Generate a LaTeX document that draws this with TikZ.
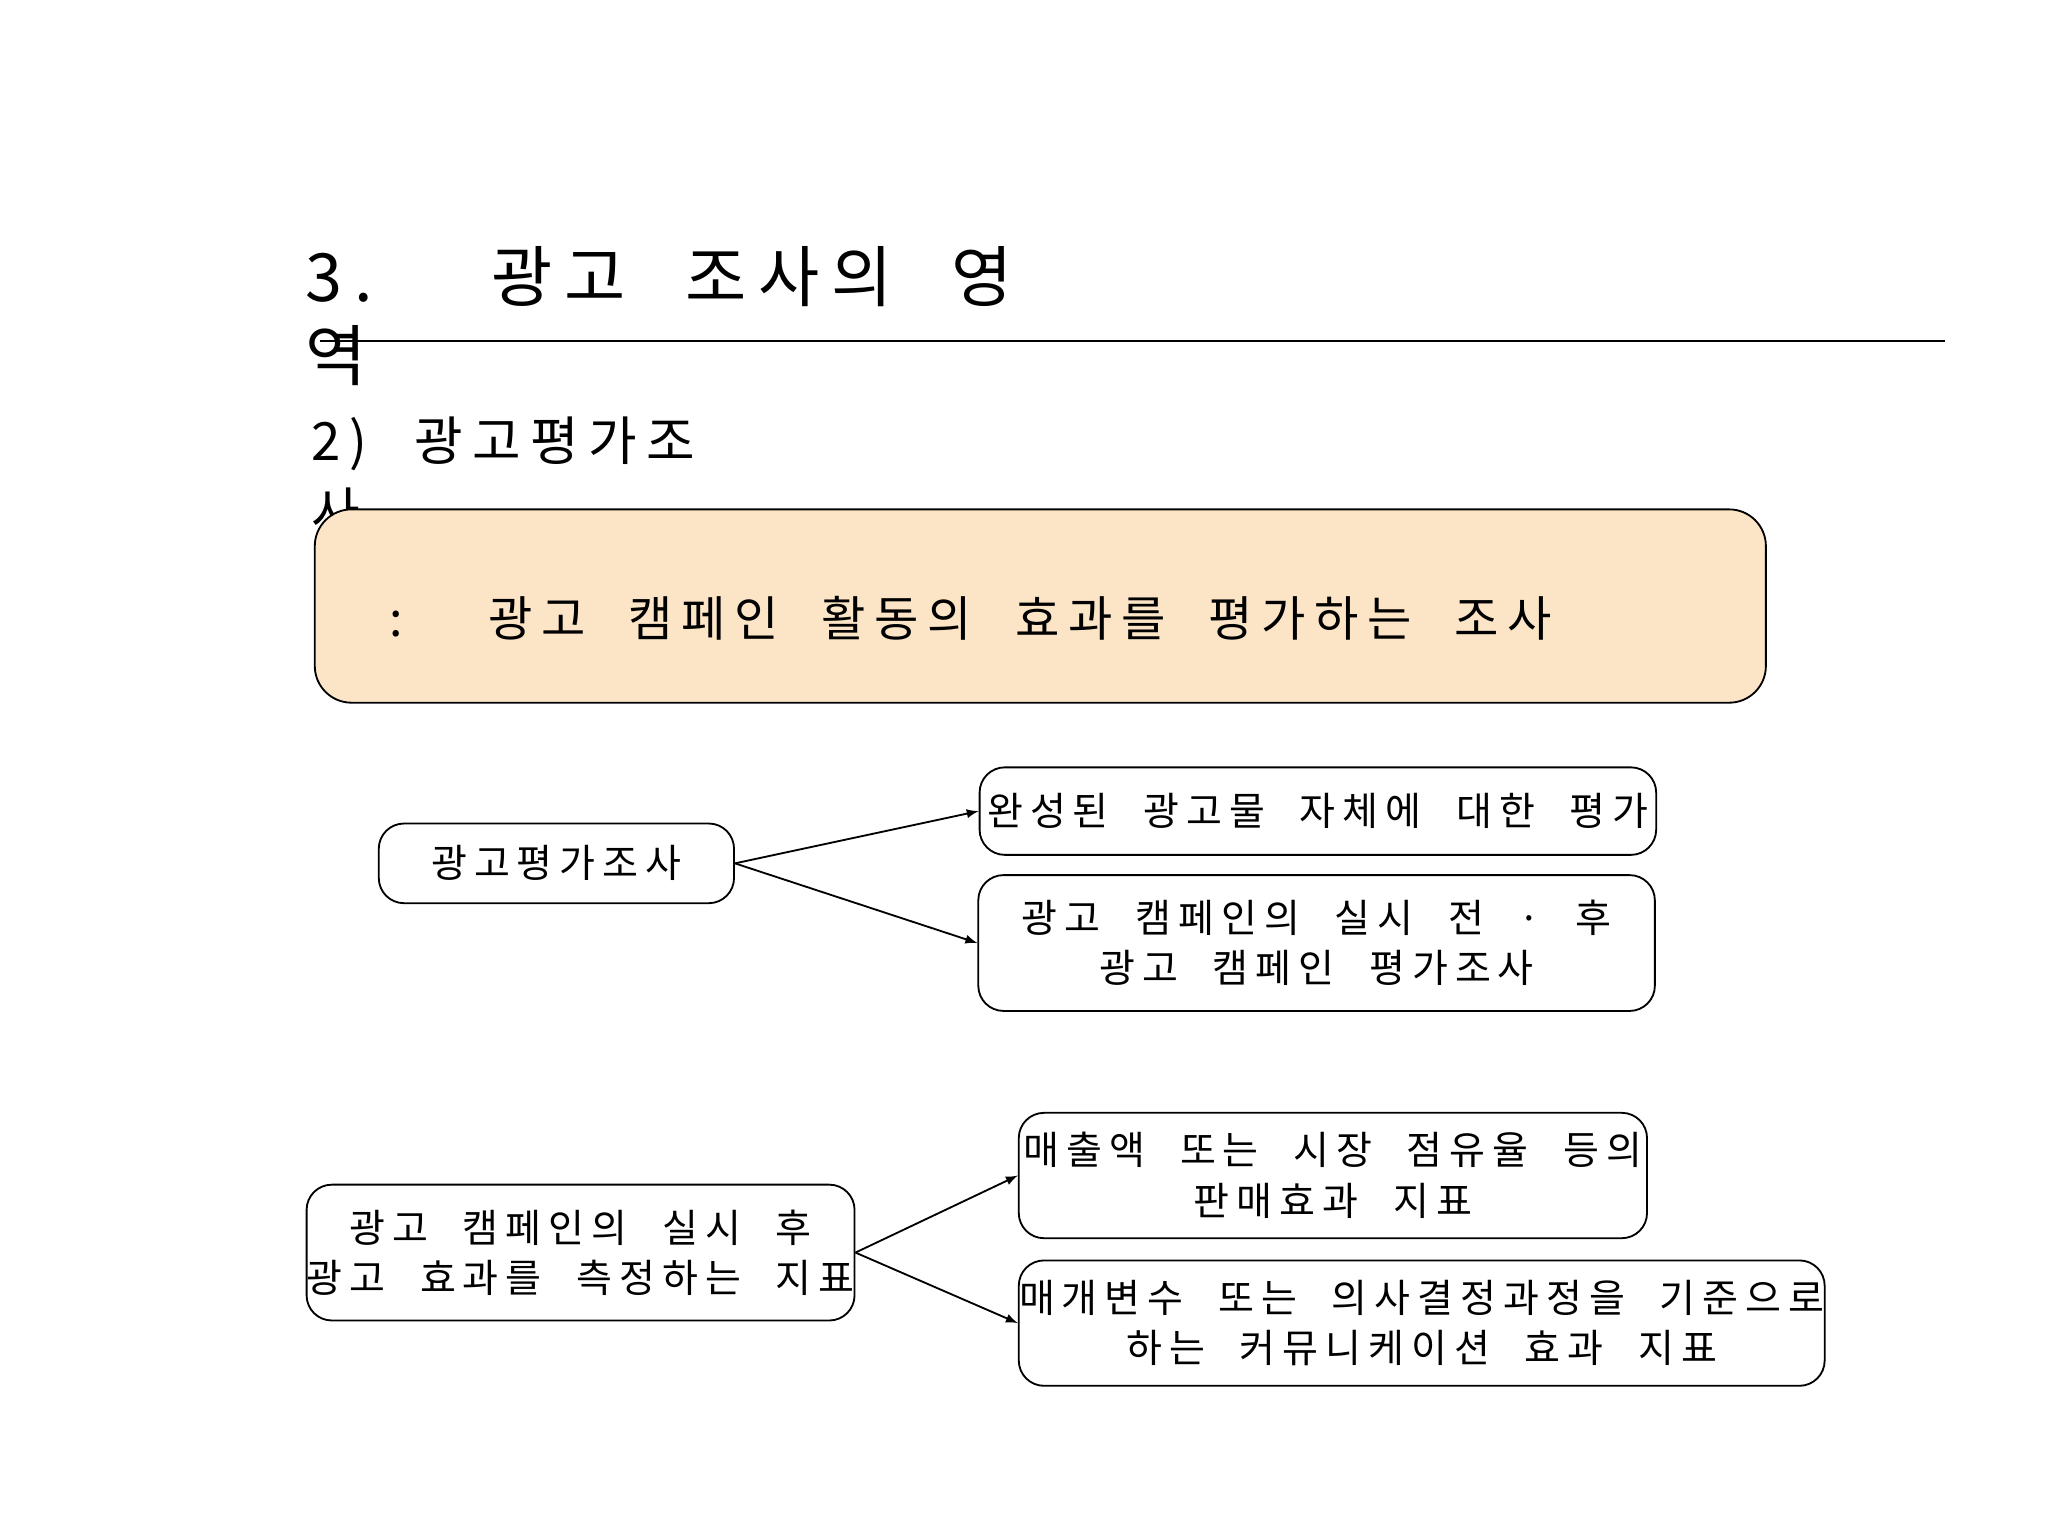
\documentclass[tikz,border=0pt]{standalone}
\usepackage{fontspec}
\setmainfont{Noto Sans CJK KR}[LetterSpace=18,WordSpace=2.2]
\tikzset{
  bx/.style={draw=black, line width=0.8pt, rounded corners=11pt, fill=white, inner sep=0pt, align=center, font=\fontsize{17}{22}\selectfont},
  arr/.style={-latex, line width=0.8pt}
}
\begin{document}
\begin{tikzpicture}[x=0.02cm,y=-0.02cm]
\useasboundingbox (0,0) rectangle (1568,1176);
\fill[white] (0,0) rectangle (1568,1176);
\node[anchor=west, font=\fontsize{29}{34}\selectfont] (t1) at (228,212) {3.\ \ 광고 조사의 영};
\node[anchor=west, font=\fontsize{29}{34}\selectfont] (t2) at (228,272) {역};
\draw[line width=0.8pt] (245,261) -- (1489,261);
\node[anchor=west, font=\fontsize{23}{28}\selectfont] (s1) at (232,340) {2)\ 광고평가조};
\node[anchor=west, font=\fontsize{23}{28}\selectfont] (s2) at (232,392) {사};
\node[bx, fill={rgb,255:red,252;green,229;blue,199}, rounded corners=16pt, minimum width=1111*0.02cm, minimum height=148*0.02cm] (big) at (796.5,464) {};
\node[anchor=west, font=\fontsize{21}{26}\selectfont] (bigt) at (292,473) {:\ \ 광고 캠페인 활동의 효과를 평가하는 조사};
\node[bx, minimum width=272*0.02cm, minimum height=61*0.02cm] (a) at (426,661) {광고평가조사};
\node[bx, minimum width=518*0.02cm, minimum height=67*0.02cm] (b) at (1009,621) {완성된 광고물 자체에 대한 평가};
\node[bx, minimum width=518*0.02cm, minimum height=104*0.02cm] (c) at (1008,722) {광고 캠페인의 실시 전 · 후\\광고 캠페인 평가조사};
\node[bx, minimum width=415*0.02cm, minimum height=104*0.02cm] (d) at (444.5,959) {광고 캠페인의 실시 후\\광고 효과를 측정하는 지표};
\node[bx, minimum width=481*0.02cm, minimum height=96*0.02cm] (e) at (1020.5,900) {매출액 또는 시장 점유율 등의\\판매효과 지표};
\node[bx, minimum width=617*0.02cm, minimum height=96*0.02cm] (f) at (1088.5,1013) {매개변수 또는 의사결정과정을 기준으로\\하는 커뮤니케이션 효과 지표};
\draw[arr] (a.east) -- (b.west);
\draw[arr] (a.east) -- (c.west);
\draw[arr] (d.east) -- (e.west);
\draw[arr] (d.east) -- (f.west);
\end{tikzpicture}
\end{document}
